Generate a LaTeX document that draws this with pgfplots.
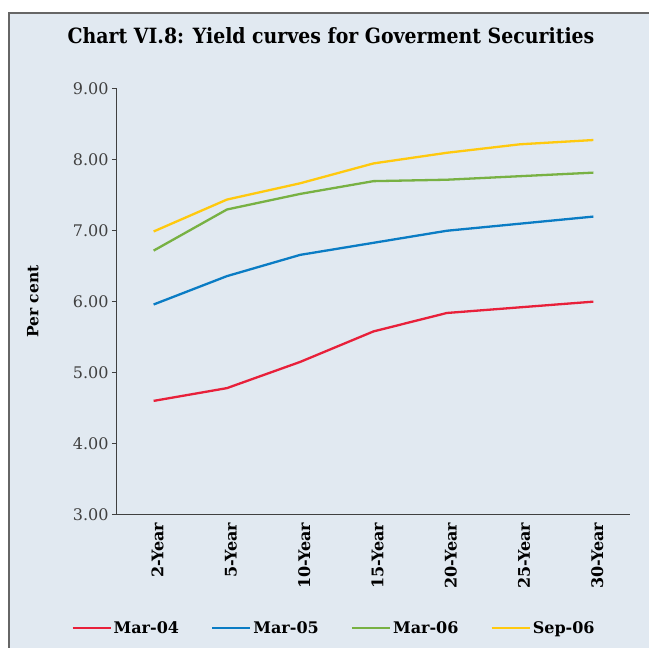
\documentclass[border=0pt]{standalone}
\usepackage{fontspec}
\setmainfont{DejaVu Serif}
\newfontfamily\titlefont{DejaVu Serif}[FakeStretch=0.9]
\usepackage{pgfplots}
\pgfplotsset{compat=1.18}
\definecolor{bg}{HTML}{E1E9F1}
\definecolor{cred}{HTML}{E8203A}
\definecolor{cblue}{HTML}{0A7CC4}
\definecolor{cgreen}{HTML}{78B143}
\definecolor{cyellow}{HTML}{FFC90E}
\definecolor{axgray}{HTML}{404040}
\begin{document}
\begin{tikzpicture}
\useasboundingbox (0pt,0pt) rectangle (649pt,648pt);
\fill[white] (0pt,0pt) rectangle (649pt,648pt);
\fill[bg] (9pt,0pt) rectangle (649pt,635pt);
\draw[gray!80!black, line width=1.2pt] (9pt,0pt) -- (9pt,635pt) -- (649pt,635pt);
\node[font=\titlefont\bfseries\fontsize{21}{24}\selectfont] at (331pt,612.5pt) {Chart VI.8: Yield curves for Goverment Securities};
\begin{axis}[
  at={(117pt,133.7pt)}, anchor=south west,
  scale only axis, width=513pt, height=425.3pt,
  xmin=-0.5, xmax=6.5, ymin=3, ymax=9,
  axis x line=bottom, axis y line=left,
  axis line style={-, axgray, line width=1pt},
  tick align=outside, tick pos=left,
  major tick length=5pt, minor tick length=5pt,
  every tick/.style={axgray, line width=1pt},
  xtick={0,...,6},
  xticklabels={2-Year,5-Year,10-Year,15-Year,20-Year,25-Year,30-Year},
  x tick style={draw=none},
  minor xtick={-0.5,0.5,...,6.5},
  ytick={3,4,...,9},
  yticklabel style={/pgf/number format/fixed, /pgf/number format/fixed zerofill, /pgf/number format/precision=2, /pgf/number format/assume math mode=true},
  yticklabel style={font=\fontsize{16}{18}\selectfont, text=axgray},
  xticklabel style={rotate=90, anchor=east, font=\bfseries\fontsize{16}{18}\selectfont, yshift=-4pt},
  ylabel={Per cent},
  ylabel style={at={(axis description cs:-0.164,0.5)}, anchor=center, font=\bfseries\fontsize{15.5}{18}\selectfont},
  legend style={at={(axis description cs:0.423,-0.267)}, anchor=center, draw=none, fill=none,
    legend columns=4, font=\bfseries\fontsize{16}{18}\selectfont,
    /tikz/every even column/.append style={column sep=30pt}},
  legend image code/.code={\draw[#1] (0pt,0pt) -- (38pt,0pt);},
  every axis plot/.append style={line width=2.3pt, mark=none},
]
\addplot[cred] coordinates {(0,4.60) (1,4.78) (2,5.15) (3,5.58) (4,5.84) (5,5.92) (6,6.00)};
\addlegendentry{Mar-04}
\addplot[cblue] coordinates {(0,5.96) (1,6.36) (2,6.66) (3,6.83) (4,7.00) (5,7.10) (6,7.20)};
\addlegendentry{Mar-05}
\addplot[cgreen] coordinates {(0,6.72) (1,7.30) (2,7.52) (3,7.70) (4,7.72) (5,7.77) (6,7.82)};
\addlegendentry{Mar-06}
\addplot[cyellow] coordinates {(0,6.99) (1,7.44) (2,7.67) (3,7.95) (4,8.10) (5,8.22) (6,8.28)};
\addlegendentry{Sep-06}
\end{axis}
\end{tikzpicture}
\end{document}
